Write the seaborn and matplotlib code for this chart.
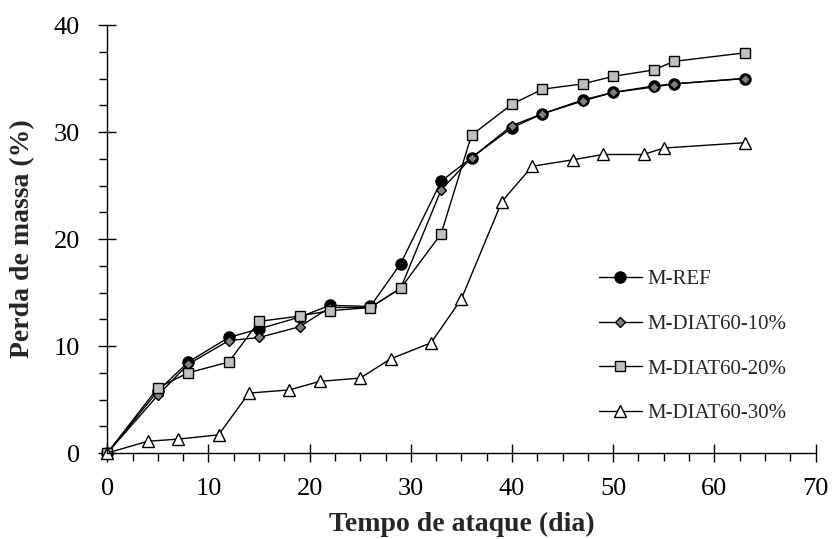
import matplotlib
matplotlib.use("Agg")
import matplotlib.pyplot as plt
from matplotlib.ticker import MultipleLocator
import seaborn as sns
import pandas as pd

# ---- data ----
days = [0, 5, 8, 12, 15, 19, 22, 26, 29, 33, 36, 40, 43, 47, 50, 54, 56, 63]
days_30 = [0, 4, 7, 11, 14, 18, 21, 25, 28, 32, 35, 39, 42, 46, 49, 53, 55, 63]
m_ref = [0, 5.8, 8.5, 10.8, 11.6, 12.7, 13.8, 13.7, 17.7, 25.4, 27.6, 30.4, 31.7, 33.0, 33.7, 34.3, 34.5, 35.0]
m_diat10 = [0, 5.4, 8.3, 10.5, 10.8, 11.8, 13.6, 13.6, 15.4, 24.6, 27.6, 30.6, 31.7, 32.9, 33.7, 34.2, 34.5, 35.0]
m_diat20 = [0, 6.1, 7.5, 8.5, 12.3, 12.8, 13.3, 13.6, 15.4, 20.5, 29.7, 32.6, 34.0, 34.5, 35.2, 35.8, 36.6, 37.4]
m_diat30 = [0, 1.1, 1.3, 1.7, 5.6, 5.9, 6.7, 7.0, 8.8, 10.3, 14.4, 23.5, 26.8, 27.4, 27.9, 27.9, 28.5, 29.0]
series_names = ["M-REF", "M-DIAT60-10%", "M-DIAT60-20%", "M-DIAT60-30%"]
x_label = "Tempo de ataque (dia)"
y_label = "Perda de massa (%)"

sns.set_theme(style="ticks")
plt.rcParams["font.family"] = ["Liberation Serif", "DejaVu Serif"]

fig = plt.figure(figsize=(8.33, 5.39), dpi=100)
ax = fig.add_axes([0.1288, 0.1595, 0.8502, 0.7941])

styles = [
    dict(marker="o", markersize=8, markerfacecolor="black"),
    dict(marker="D", markersize=5.2, markerfacecolor="#808080"),
    dict(marker="s", markersize=7.4, markerfacecolor="#c0c0c0"),
    dict(marker="^", markersize=8, markerfacecolor="white"),
]
xs = [days, days, days, days_30]
ys = [m_ref, m_diat10, m_diat20, m_diat30]

for name, x, y, st in zip(series_names, xs, ys, styles):
    df = pd.DataFrame({"x": x, "y": y})
    sns.lineplot(data=df, x="x", y="y", ax=ax, color="black", linewidth=1.0,
                 markeredgecolor="black", markeredgewidth=1.0, label=name,
                 errorbar=None, estimator=None, clip_on=False, **st)

ax.set_xlim(0, 70)
ax.set_ylim(0, 40)
ax.xaxis.set_major_locator(MultipleLocator(10))
ax.xaxis.set_minor_locator(MultipleLocator(2.5))
ax.yaxis.set_major_locator(MultipleLocator(10))
ax.yaxis.set_minor_locator(MultipleLocator(2.5))

sns.despine(ax=ax)
for s in ["left", "bottom"]:
    ax.spines[s].set_linewidth(1.0)
    ax.spines[s].set_color("black")

ax.tick_params(axis="x", which="major", direction="inout", length=13, width=1.0,
               labelsize=19, pad=11.5, colors="black")
ax.tick_params(axis="y", which="major", direction="inout", length=13, width=1.0,
               labelsize=19, pad=13, colors="black")
ax.tick_params(axis="both", which="minor", direction="out", length=5.8, width=1.0,
               colors="black")

ax.set_xlabel(x_label, fontsize=20, fontweight="bold")
ax.set_ylabel(y_label, fontsize=20, fontweight="bold")
ax.xaxis.set_label_coords(0.5, -0.138)
ax.yaxis.set_label_coords(-0.102, 0.5)

handles, labels = ax.get_legend_handles_labels()
ax.legend(handles, labels, loc="upper left", bbox_to_anchor=(0.694, 0.428),
          frameon=False, borderpad=0, borderaxespad=0, handlelength=2.07,
          handletextpad=0.25, labelspacing=1.2, fontsize=15)

fig.savefig("out.png", dpi=100)
